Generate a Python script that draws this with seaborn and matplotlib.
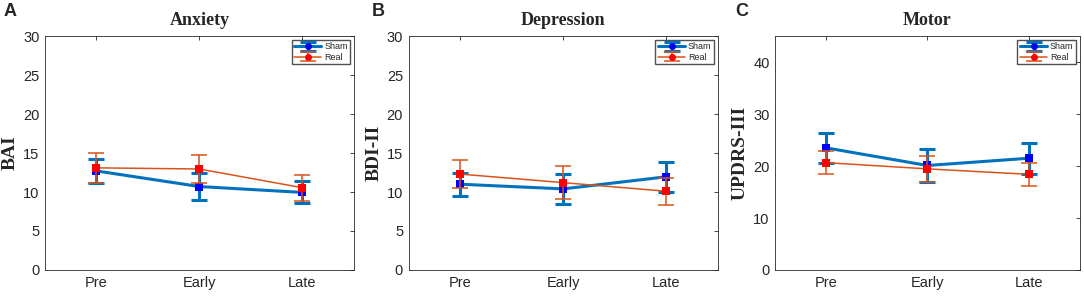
import numpy as np
import pandas as pd
import seaborn as sns
import matplotlib.pyplot as plt
from matplotlib.lines import Line2D
from matplotlib.legend_handler import HandlerTuple

# values (mean, lower and upper end of error bar)
sessions = ["Pre", "Early", "Late"]

anx_sham = [12.7, 10.7, 9.95]
anx_sham_lo = [11.2, 9.0, 8.6]
anx_sham_hi = [14.2, 12.5, 11.35]
anx_real = [13.1, 12.95, 10.55]
anx_real_lo = [11.1, 11.1, 8.8]
anx_real_hi = [15.05, 14.75, 12.2]

dep_sham = [11.0, 10.4, 11.95]
dep_sham_lo = [9.5, 8.45, 10.0]
dep_sham_hi = [12.5, 12.3, 13.8]
dep_real = [12.3, 11.2, 10.1]
dep_real_lo = [10.55, 9.1, 8.3]
dep_real_hi = [14.05, 13.3, 11.75]

mot_sham = [23.5, 20.1, 21.5]
mot_sham_lo = [20.5, 16.9, 18.4]
mot_sham_hi = [26.4, 23.2, 24.45]
mot_real = [20.65, 19.45, 18.4]
mot_real_lo = [18.4, 16.9, 16.25]
mot_real_hi = [22.9, 21.95, 20.6]

line_col = {"Sham": "#0072BD", "Real": "#D95319"}
mark_col = {"Sham": "#0000FF", "Real": "#FF0000"}
lw = {"Sham": 2.2, "Real": 1.1}

panels = [
    ("A", "Anxiety", "BAI", 30, np.arange(0, 31, 5),
     (anx_sham, anx_sham_lo, anx_sham_hi), (anx_real, anx_real_lo, anx_real_hi)),
    ("B", "Depression", "BDI-II", 30, np.arange(0, 31, 5),
     (dep_sham, dep_sham_lo, dep_sham_hi), (dep_real, dep_real_lo, dep_real_hi)),
    ("C", "Motor", "UPDRS-III", 45, np.arange(0, 41, 10),
     (mot_sham, mot_sham_lo, mot_sham_hi), (mot_real, mot_real_lo, mot_real_hi)),
]

sns.set_style("white")
plt.rcParams["font.family"] = ["Liberation Sans", "DejaVu Sans"]

fig = plt.figure(figsize=(10.84, 2.98), dpi=100)
lefts = [0.0415, 0.377, 0.715]
widths = [0.285, 0.285, 0.281]
letter_x = [4 / 1084, 372 / 1084, 735 / 1084]

for i, (letter, title, ylab, ymax, yt, sham, real) in enumerate(panels):
    ax = fig.add_axes([lefts[i], 0.094, widths[i], 0.785])
    rows = []
    for g, (m, lo, hi) in [("Sham", sham), ("Real", real)]:
        for k, s in enumerate(sessions):
            rows.append({"group": g, "x": k + 1, "session": s, "mean": m[k], "lo": lo[k], "hi": hi[k]})
    df = pd.DataFrame(rows)

    handles = []
    for z, g in enumerate(["Sham", "Real"]):
        d = df[df["group"] == g]
        err = ax.errorbar(d["x"], d["mean"], yerr=[d["mean"] - d["lo"], d["hi"] - d["mean"]],
                          fmt="none", ecolor=line_col[g], elinewidth=lw[g], capsize=6,
                          capthick=lw[g], zorder=2 + 2 * z)
        sns.lineplot(data=d, x="x", y="mean", color=line_col[g], linewidth=lw[g],
                     ax=ax, zorder=2 + 2 * z, legend=False)
        sns.scatterplot(data=d, x="x", y="mean", color=mark_col[g], marker="s", s=40,
                        linewidth=0, ax=ax, zorder=3 + 2 * z, legend=False)
        proxy = Line2D([], [], color=line_col[g], lw=lw[g], marker="o", ms=4,
                       mfc=mark_col[g], mec=mark_col[g])
        handles.append((err, proxy))

    ax.set_xlim(0.5, 3.5)
    ax.set_ylim(0, ymax)
    ax.set_xticks([1, 2, 3])
    ax.set_xticklabels(sessions)
    ax.set_yticks(yt)
    ax.tick_params(direction="in", length=3, width=0.6, labelsize=10.5, colors="#262626",
                   top=True, right=True, pad=4)
    for sp in ax.spines.values():
        sp.set_color("#262626")
        sp.set_linewidth(0.6)
    ax.set_xlabel("")
    ax.set_ylabel(ylab, fontfamily="Liberation Serif", fontweight="bold", fontsize=14, labelpad=3)
    ax.set_title(title, fontfamily="Liberation Serif", fontweight="bold", fontsize=13, pad=8)
    ax.legend(handles, ["Sham", "Real"], handler_map={tuple: HandlerTuple(ndivide=1)},
              loc="upper right", fontsize=6.5, frameon=True, fancybox=False, edgecolor="#262626",
              handlelength=3, borderpad=0.3, labelspacing=0.15, handletextpad=0.3,
              borderaxespad=0.4)
    fig.text(letter_x[i], 0.962, letter, fontsize=13, fontweight="bold", va="center", ha="left")

fig.savefig("out.png", dpi=100)
